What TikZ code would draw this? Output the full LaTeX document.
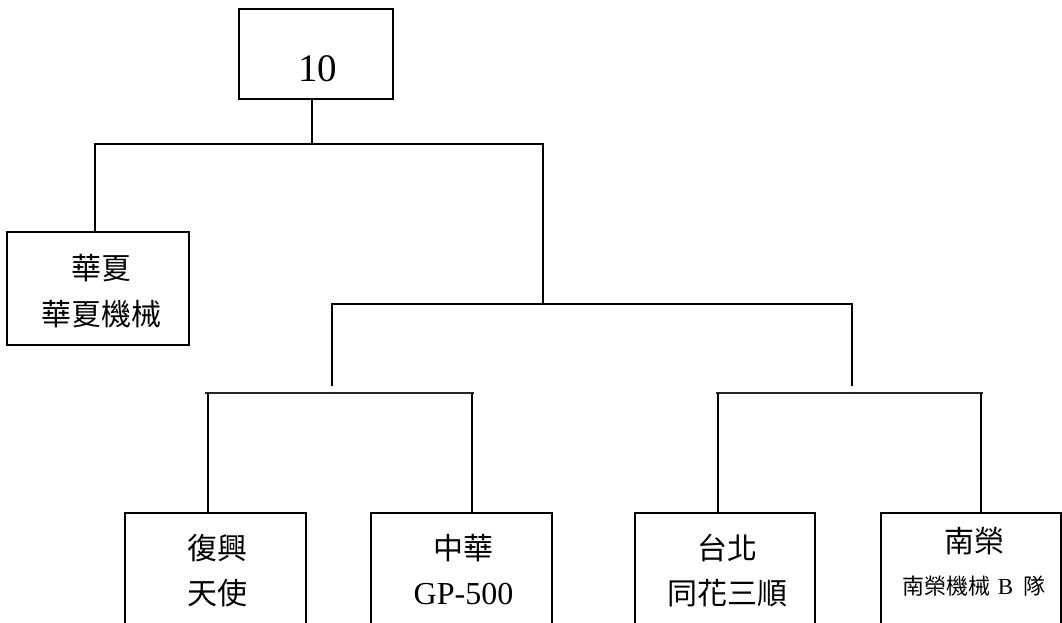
\documentclass[tikz,border=0pt]{standalone}
\usepackage{fontspec}
\setmainfont{Liberation Serif}
\newfontfamily\cjk{Noto Sans CJK TC}
\begin{document}
\begin{tikzpicture}[x=1pt,y=-1pt,
  box/.style={draw=black,line width=2pt,inner sep=0pt,fill=none},
  conn/.style={draw=black,line width=1.5pt},
  bar/.style={draw=black!85,line width=2pt},
  lbl/.style={inner sep=0pt,anchor=base,font=\fontsize{30}{36}\selectfont\cjk},
  lat/.style={inner sep=0pt,anchor=base,font=\fontsize{32}{38}\selectfont},
  small/.style={inner sep=0pt,anchor=base,font=\fontsize{23}{27}\selectfont}]
\clip (0,0) rectangle (1062,623);
\fill[white] (0,0) rectangle (1062,623);
% boxes
\node[box,minimum width=154pt,minimum height=90pt] (top) at (316,54) {};
\node[box,minimum width=182pt,minimum height=113pt] (b0) at (98,288.5) {};
\node[box,minimum width=181pt,minimum height=127pt] (b1) at (215.5,576.5) {};
\node[box,minimum width=181pt,minimum height=127pt] (b2) at (461.5,576.5) {};
\node[box,minimum width=180pt,minimum height=127pt] (b3) at (725,576.5) {};
\node[box,minimum width=180pt,minimum height=127pt] (b4) at (971,576.5) {};
% texts
\node[inner sep=0pt,anchor=base,font=\fontsize{39}{44}\selectfont] (t10) at (317.5,82) {10};
\node[lbl] (t0a) at (101,279.5) {華夏};
\node[lbl] (t0b) at (101,325.5) {華夏機械};
\node[lbl] (t1a) at (217.5,559.5) {復興};
\node[lbl] (t1b) at (217.5,604.5) {天使};
\node[lbl] (t2a) at (463.5,559.5) {中華};
\node[lat] (t2b) at (463.5,604.5) {GP-500};
\node[lbl] (t3a) at (727,559.5) {台北};
\node[lbl] (t3b) at (727,604.5) {同花三順};
\node[lbl] (t4a) at (974,552.5) {南榮};
\node[small] (t4b) at (974,594) {{\fontsize{22}{26}\selectfont\cjk 南榮機械}\hspace{7pt}B\hspace{10pt}{\fontsize{22}{26}\selectfont\cjk 隊}};
% junction coordinates
\coordinate (j0) at (312,144);
\coordinate (jL) at (95,144);
\coordinate (jR) at (543,144);
\coordinate (m0) at (543,304);
\coordinate (mL) at (332,304);
\coordinate (mR) at (852,304);
\coordinate (mLe) at (332,386);
\coordinate (mRe) at (852,386);
\coordinate (aL) at (205,393);
\coordinate (aR) at (474,393);
\coordinate (a1) at (208,393);
\coordinate (a2) at (472,393);
\coordinate (cL) at (716,393);
\coordinate (cR) at (983,393);
\coordinate (c3) at (718,393);
\coordinate (c4) at (981,393);
% connectors
\draw[conn] (top.south -| j0) -- (j0);
\draw[conn] (b0.north -| jL) -- (jL) -- (jR) -- (m0);
\draw[conn] (mLe) -- (mL) -- (mR) -- (mRe);
\draw[bar] (aL) -- (aR);
\draw[bar] (cL) -- (cR);
\draw[conn] (a1) -- (b1.north -| a1);
\draw[conn] (a2) -- (b2.north -| a2);
\draw[conn] (c3) -- (b3.north -| c3);
\draw[conn] (c4) -- (b4.north -| c4);
\end{tikzpicture}
\end{document}
